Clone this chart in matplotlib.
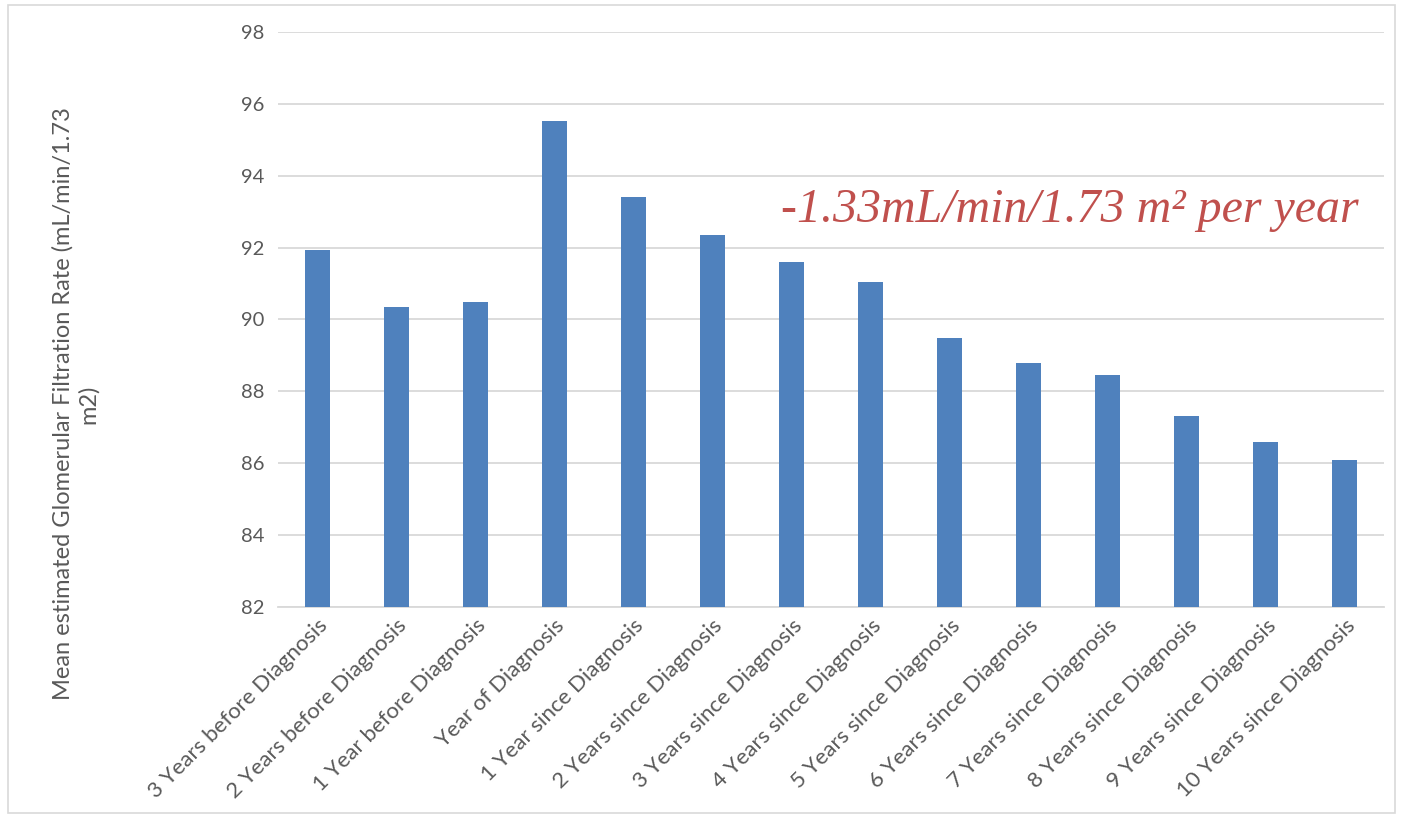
import matplotlib.pyplot as plt
from matplotlib.patches import Rectangle

# data

categories = ['3 Years before Diagnosis', '2 Years before Diagnosis', '1 Year before Diagnosis',
              'Year of Diagnosis', '1 Year since Diagnosis', '2 Years since Diagnosis',
              '3 Years since Diagnosis', '4 Years since Diagnosis', '5 Years since Diagnosis',
              '6 Years since Diagnosis', '7 Years since Diagnosis', '8 Years since Diagnosis',
              '9 Years since Diagnosis', '10 Years since Diagnosis']
egfr = [91.93, 90.35, 90.49, 95.52, 93.41, 92.35, 91.60, 91.04, 89.49, 88.79, 88.46, 87.32, 86.59, 86.09]
y_ticks = [82, 84, 86, 88, 90, 92, 94, 96, 98]

# plot

plt.rcParams['font.family'] = ['Lato', 'DejaVu Sans']
grey = '#595959'

fig = plt.figure(figsize=(14.01, 8.16), dpi=100)
fig.patches.append(Rectangle((0.006, 0.004), 0.99, 0.99, transform=fig.transFigure,
                             fill=False, edgecolor='#D9D9D9', linewidth=1.2))
ax = fig.add_axes([0.1984, 0.256, 0.7896, 0.705])

x = range(len(categories))
ax.bar(x, egfr, width=0.32, color='#4F81BD', zorder=3)
ax.set_xlim(-0.5, len(categories) - 0.5)
ax.set_ylim(82, 98)
ax.set_yticks(y_ticks)
ax.set_xticks(list(x))
ax.set_xticklabels(categories, rotation=45, ha='right', va='top', rotation_mode='anchor')
ax.grid(axis='y', color='#D9D9D9', linewidth=1.3, zorder=0)
ax.tick_params(axis='y', length=0, labelsize=14.5, colors=grey, pad=10)
ax.tick_params(axis='x', length=0, labelsize=16, colors=grey, pad=6)
for lbl in ax.get_xticklabels():
    lbl.set_x(lbl.get_position()[0])
for side in ['top', 'right', 'left']:
    ax.spines[side].set_visible(False)
ax.spines['bottom'].set_color('#D9D9D9')
ax.spines['bottom'].set_linewidth(1.3)

fig.text(0.054, 0.505, 'Mean estimated Glomerular Filtration Rate (mL/min/1.73\nm2)',
         rotation=90, ha='center', va='center', fontsize=17, color=grey, linespacing=1.2)

ax.text(0.977, 0.69, '-1.33mL/min/1.73 m\u00b2 per year', transform=ax.transAxes,
        ha='right', va='center', fontsize=34.5, style='italic', color='#C0504D',
        family='Liberation Serif')

fig.savefig('out.png', dpi=100)
